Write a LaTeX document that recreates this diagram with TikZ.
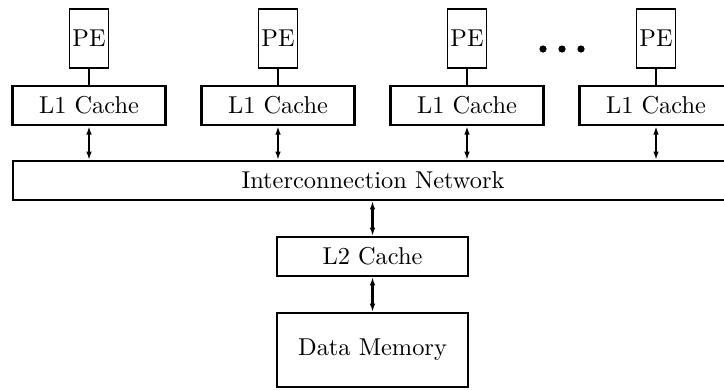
\documentclass[tikz,border=0pt]{standalone}
\usetikzlibrary{arrows.meta}
\begin{document}
\begin{tikzpicture}[x=0.41pt,y=-0.41pt,
  box/.style={draw,line width=0.9pt,inner sep=0pt,font=\fontsize{10pt}{12pt}\selectfont},
  pebox/.style={box,line width=0.8pt,minimum width=39*0.41pt,minimum height=59*0.41pt},
  lonebox/.style={box,line width=1pt,minimum width=153*0.41pt,minimum height=39*0.41pt},
  link/.style={line width=1pt},
  biarrow/.style={line width=1pt,{Latex[length=3.4pt,width=2.3pt]}-{Latex[length=3.4pt,width=2.3pt]}}]
\useasboundingbox (0,0) rectangle (724,389);
\foreach \i/\x in {1/89,2/278,3/467,4/656}{
  \node[pebox] (pe\i) at (\x,38.5) {PE};
  \node[lonebox] (lone\i) at (\x,105.5) {L1 Cache};
  \draw[link] (pe\i) -- (lone\i);
}
\node[box,minimum width=720*0.41pt,minimum height=39*0.41pt] (net) at (373,180.5) {Interconnection Network};
\node[box,minimum width=191*0.41pt,minimum height=39*0.41pt] (ltwo) at (372.5,256.5) {L2 Cache};
\node[box,minimum width=191*0.41pt,minimum height=74*0.41pt] (mem) at (372.5,350) {Data Memory};
\foreach \i in {1,2,3,4}{
  \draw[biarrow] (lone\i.south) -- (lone\i.south |- net.north);
}
\draw[biarrow] (net.south -| ltwo.north) -- (ltwo.north);
\draw[biarrow] (ltwo.south) -- (mem.north);
\foreach \x in {543,562,581}{
  \fill (\x,49) circle (3.6*0.41pt);
}
\end{tikzpicture}
\end{document}
